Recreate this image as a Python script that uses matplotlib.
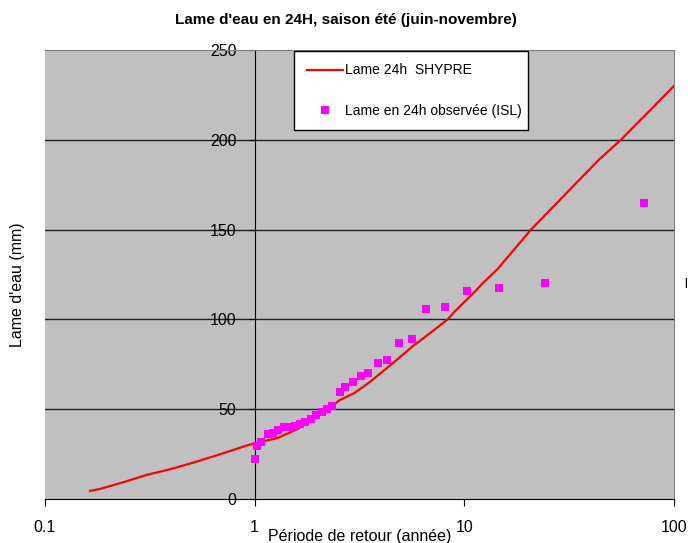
import matplotlib
matplotlib.use('Agg')
import matplotlib.pyplot as plt

plt.rcParams['font.family'] = ['Liberation Sans', 'DejaVu Sans']

# SHYPRE simulated 24h depth vs return period
periode_shypre = [0.164, 0.183, 0.236, 0.305, 0.394, 0.528, 0.706, 0.9, 1.0, 1.29, 1.6, 2.0,
                  2.3, 2.54, 2.99, 3.53, 4.39, 5.67, 6.8, 8.33, 9.1, 11.35, 12.2, 14.4,
                  17.6, 20.8, 30.5, 43.9, 55.8, 74.8, 100]
lame_shypre = [4.5, 5.6, 9.3, 13.4, 16.5, 20.8, 25.4, 29.5, 31, 34, 39, 46,
               51, 55, 59, 65, 74, 85, 92, 100, 105, 116, 120, 128,
               140, 150, 170, 189, 200, 215, 230]

# observed values (ISL)
periode_obs = [1.003, 1.03, 1.068, 1.157, 1.222, 1.291, 1.379, 1.468, 1.551, 1.638, 1.729,
               1.847, 1.967, 2.09, 2.218, 2.345, 2.54, 2.71, 2.94, 3.2, 3.49, 3.87, 4.26,
               4.87, 5.62, 6.58, 8.05, 10.33, 14.6, 24.3, 71.9]
lame_obs = [22.2, 29.7, 31.9, 36.0, 36.9, 38.4, 39.9, 40.3, 40.6, 41.8, 43.0,
            44.4, 46.8, 48.6, 49.9, 51.8, 59.7, 62.5, 65.0, 68.7, 70.3, 75.5, 77.4,
            87.0, 89.0, 105.6, 107.0, 115.6, 117.3, 120.0, 164.6]

x_ticks = [0.1, 1, 10, 100]
x_labels = ['0.1', '1', '10', '100']
y_ticks = [0, 50, 100, 150, 200, 250]

fig = plt.figure(figsize=(6.88, 5.43), dpi=100)
ax = fig.add_axes([45/688, 1 - 499/543, 629/688, 449/543])
ax.set_facecolor('#C0C0C0')

for y in y_ticks[1:-1]:
    ax.axhline(y, color='#202020', lw=1.0, zorder=1)

ax.plot(periode_shypre, lame_shypre, color='#FF0000', lw=1.6, zorder=3,
        label='Lame 24h  SHYPRE')
ax.plot(periode_obs, lame_obs, 's', color='#FF00FF', markersize=5.8, markeredgewidth=0,
        zorder=4, label='Lame en 24h observée (ISL)')

ax.set_xscale('log')
ax.set_xlim(0.1, 100)
ax.set_ylim(0, 250)
ax.set_xticks(x_ticks)
ax.set_xticklabels(x_labels)
ax.minorticks_off()
ax.set_yticks(y_ticks)

# y axis crosses at x = 1
ax.spines['left'].set_position(('data', 1))
ax.spines['left'].set_color('black')
ax.spines['bottom'].set_color('black')
ax.spines['top'].set_color('#808080')
ax.spines['right'].set_color('#808080')
ax.tick_params(axis='y', direction='out', length=4, pad=9, labelsize=11.5)
ax.tick_params(axis='x', direction='out', length=5, pad=10, labelsize=11.5)

fig.suptitle("Lame d'eau en 24H, saison été (juin-novembre)", x=346/688, y=1 - 20/543,
             fontsize=11, fontweight='bold', va='center')
fig.text(360/688, 1 - 537/543, 'Période de retour (année)', ha='center', va='center',
         fontsize=11.5)
fig.text(18/688, 1 - 285/543, "Lame d'eau (mm)", ha='center', va='center', rotation=90,
         fontsize=11.5)
fig.text(686/688, 1 - 283/543, '|', ha='center', va='center', fontsize=7, fontweight='bold')

leg = ax.legend(loc='upper left', bbox_to_anchor=(249/629, 448/449, 234/629, 0), mode='expand',
                borderaxespad=0, fontsize=10, frameon=True, fancybox=False, numpoints=1,
                handlelength=2.6, handletextpad=0.2, labelspacing=1.9, borderpad=0.9)
leg.get_frame().set_edgecolor('black')
leg.get_frame().set_linewidth(1.0)
leg.get_frame().set_alpha(1)

plt.savefig('out.png', dpi=100)
